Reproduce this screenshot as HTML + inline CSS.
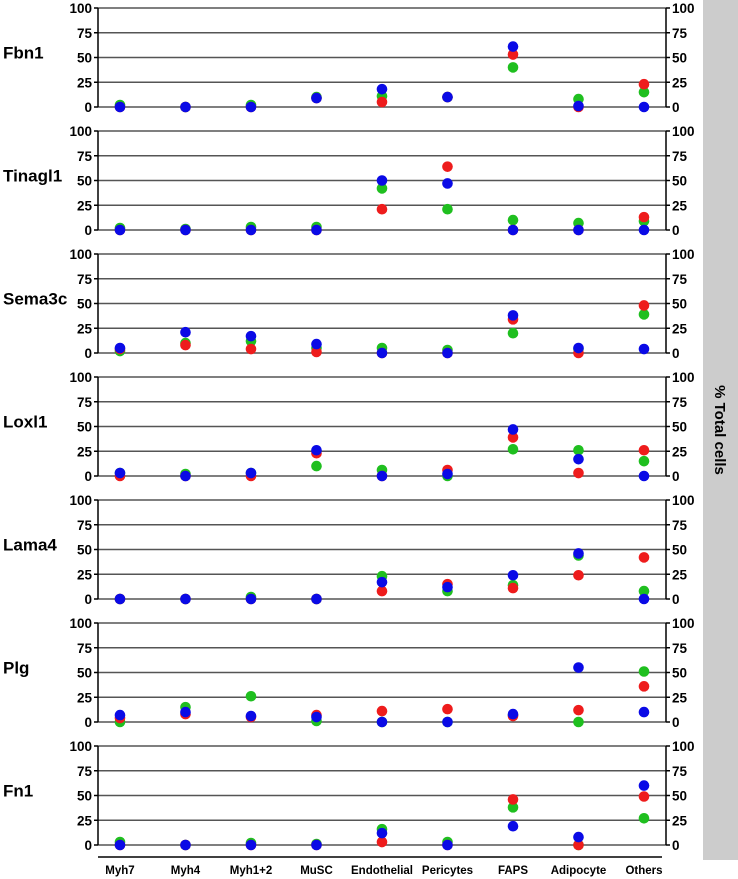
<!DOCTYPE html>
<html><head><meta charset="utf-8"><style>
body{margin:0;background:#fff;font-family:"Liberation Sans",Arial,sans-serif}
svg{display:block}
</style></head><body>
<svg id="chart" width="738" height="879" xmlns="http://www.w3.org/2000/svg" font-family="Liberation Sans, Arial, sans-serif"></svg>
<script>
const categories=["Myh7","Myh4","Myh1+2","MuSC","Endothelial","Pericytes","FAPS","Adipocyte","Others"];
const genes=["Fbn1","Tinagl1","Sema3c","Loxl1","Lama4","Plg","Fn1"];
const yTicks=[0,25,50,75,100];
const greenVals=[
[2,0,2,10,11,10,40,8,15],
[2,1,3,3,42,21,10,7,9],
[2,10,12,5,5,3,20,4,39],
[3,2,3,10,6,0,27,26,15],
[0,0,2,0,23,8,14,44,8],
[0,15,26,1,0,0,7,0,51],
[3,0,2,1,16,3,38,0,27]];
const redVals=[
[0,0,0,9,5,10,53,0,23],
[0,0,0,0,21,64,0,0,13],
[4,8,4,1,0,0,34,0,48],
[0,0,0,23,0,6,39,3,26],
[0,0,0,0,8,15,11,24,42],
[4,8,5,7,11,13,6,12,36],
[0,0,0,0,3,0,46,0,49]];
const blueVals=[
[0,0,0,9,18,10,61,1,0],
[0,0,0,0,50,47,0,0,0],
[5,21,17,9,0,0,38,5,4],
[3,0,3,26,0,2,47,17,0],
[0,0,0,0,17,12,24,46,0],
[7,10,6,5,0,0,8,55,10],
[0,0,0,0,12,0,19,8,60]];
const series=[["green",greenVals,"#1fbf1f"],["red",redVals,"#ee1c1c"],["blue",blueVals,"#0a0ae6"]];

const svg=document.getElementById('chart');
const NS="http://www.w3.org/2000/svg";
const L=98,R=666,panelTop0=8,panelStep=123,panelH=99;
const xScale=i=>120+i*65.5;
function yScale(p,v){return panelTop0+p*panelStep+panelH*(1-v/100);}
function mk(tag,attrs,parent){const e=document.createElementNS(NS,tag);for(const k in attrs)e.setAttribute(k,attrs[k]);(parent||svg).appendChild(e);return e;}

const bar=mk('rect',{x:703,y:0,width:35,height:860,fill:'#cccccc'});


const yt=mk('text',{x:0,y:0,transform:'translate(715,430) rotate(90)','text-anchor':'middle','font-size':'15','font-weight':'bold',fill:'#000'});
yt.textContent='% Total cells';



genes.forEach((g,p)=>{
  const grp=mk('g',{});
  
  
  yTicks.forEach(t=>{
    const y=yScale(p,t);
    const gl=mk('line',{x1:L,x2:R,y1:y,y2:y,stroke:'#555',"stroke-width":1.6},grp);
    
    
    mk('line',{x1:L-4,x2:L,y1:y,y2:y,stroke:'#000',"stroke-width":1.5},grp);
    mk('line',{x1:R,x2:R+4,y1:y,y2:y,stroke:'#000',"stroke-width":1.5},grp);
    const lt=mk('text',{x:L-6,y:y+5,'text-anchor':'end','font-size':'13.5','font-weight':'bold'},grp);
    lt.textContent=t;
    
    
    const rt=mk('text',{x:R+6,y:y+5,'text-anchor':'start','font-size':'13.5','font-weight':'bold'},grp);
    rt.textContent=t;
    
    
  });
  mk('line',{x1:L,x2:L,y1:yScale(p,100),y2:yScale(p,0),stroke:'#000',"stroke-width":1.5},grp);
  mk('line',{x1:R,x2:R,y1:yScale(p,100),y2:yScale(p,0),stroke:'#000',"stroke-width":1.5},grp);
  const gt=mk('text',{x:3,y:yScale(p,55)+6,'font-size':'17','font-weight':'bold'},grp);
  gt.textContent=g;
  
  
  series.forEach(([name,vals,col])=>{
    vals[p].forEach((v,i)=>{
      const c=mk('circle',{cx:xScale(i),cy:yScale(p,v),r:5.3,fill:col},grp);
      
      
    });
  });
});
const xa=mk('line',{x1:L,x2:662,y1:857,y2:857,stroke:'#000',"stroke-width":1.5});


categories.forEach((c,i)=>{
  const t=mk('text',{x:xScale(i),y:874,'text-anchor':'middle','font-size':'11.5','font-weight':'bold'});
  t.textContent=c;
  
  
});
</script>
</body></html>
